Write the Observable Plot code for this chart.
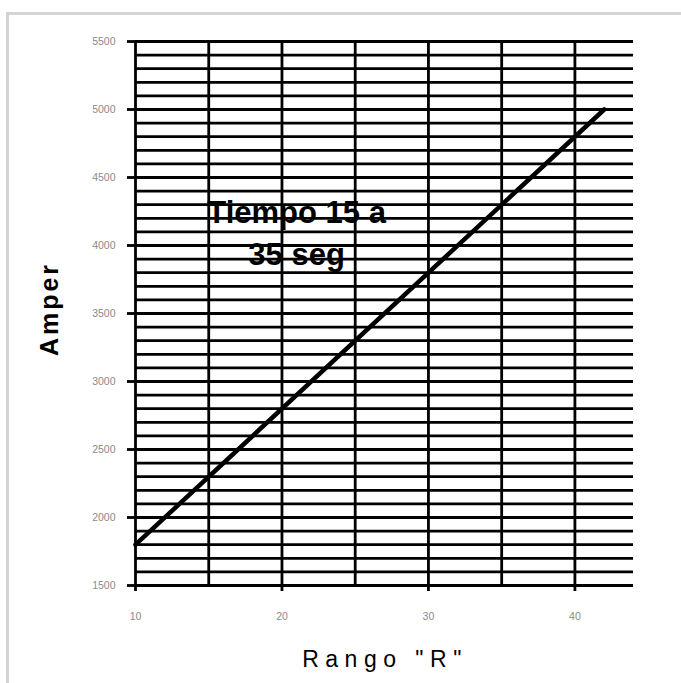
<!DOCTYPE html>
<html>
<head>
<meta charset="utf-8">
<script src="https://cdn.jsdelivr.net/npm/d3@7"></script>
<script src="https://cdn.jsdelivr.net/npm/@observablehq/plot@0.6"></script>
<style>
  html, body { margin: 0; padding: 0; background: #fff; }
  #wrap { position: relative; width: 681px; height: 683px; overflow: hidden; font-family: "Liberation Sans", Arial, sans-serif; }
  #border { position: absolute; left: 6px; top: 12px; width: 1000px; height: 1000px; border: 3px solid #d4d4d4; box-sizing: border-box; }
  #chart { position: absolute; left: 0; top: 0; }
  .lbl { position: absolute; white-space: nowrap; color: #000; }
  #ylab { left: 49px; top: 309px; transform: translate(-50%, -50%) rotate(-90deg); font-weight: bold; font-size: 25px; letter-spacing: 3px; }
  #xlab { left: 385px; top: 659px; transform: translate(-50%, -50%); font-size: 23px; letter-spacing: 6.5px; }
</style>
</head>
<body>
<div id="wrap">
  <div id="border"></div>
  <div id="chart"></div>
  <div class="lbl" id="ylab">Amper</div>
  <div class="lbl" id="xlab">Rango "R"</div>
</div>
<script>
// Data
const rango = [10, 42];
const amper = [1800, 5000];
const xTicks = [10, 20, 30, 40];
const xGrid = [10, 15, 20, 25, 30, 35, 40];
const yTicks = [1500, 2000, 2500, 3000, 3500, 4000, 4500, 5000, 5500];
const yGrid = d3.range(1500, 5501, 100);
const annotation = ["Tiempo 15 a\n35 seg"];

const points = rango.map((r, i) => ({rango: r, amper: amper[i]}));

const chart = Plot.plot({
  width: 681,
  height: 683,
  marginLeft: 135,
  marginRight: 48,
  marginTop: 41,
  marginBottom: 98,
  style: { background: "transparent", fontFamily: "Liberation Sans, Arial, sans-serif" },
  x: { domain: [10, 44], label: null },
  y: { domain: [1500, 5500], label: null },
  marks: [
    Plot.ruleY(yGrid, { stroke: "#000", strokeWidth: 2.8 }),
    Plot.ruleX(xGrid, { stroke: "#000", strokeWidth: 2.8 }),
    Plot.axisY({ ticks: yTicks, tickSize: 8, tickPadding: 12, strokeWidth: 2.8, stroke: "#000", fill: "#8a8a8a", fontSize: 10.5, label: null, tickFormat: d => String(d) }),
    Plot.axisX({ ticks: xTicks, tickSize: 6, tickPadding: 21, strokeWidth: 2.8, stroke: "#000", fill: "#8a8a8a", fontSize: 10.5, label: null, tickFormat: d => String(d) }),
    Plot.line(points, { x: "rango", y: "amper", stroke: "#000", strokeWidth: 4.5 }),
    Plot.text(annotation, { x: () => 21, y: () => 4110, text: d => d, fontSize: 31, fontWeight: "bold", fill: "#000", lineHeight: 1.35, letterSpacing: 2.5 })
  ]
});
document.getElementById("chart").appendChild(chart);
</script>
</body>
</html>
